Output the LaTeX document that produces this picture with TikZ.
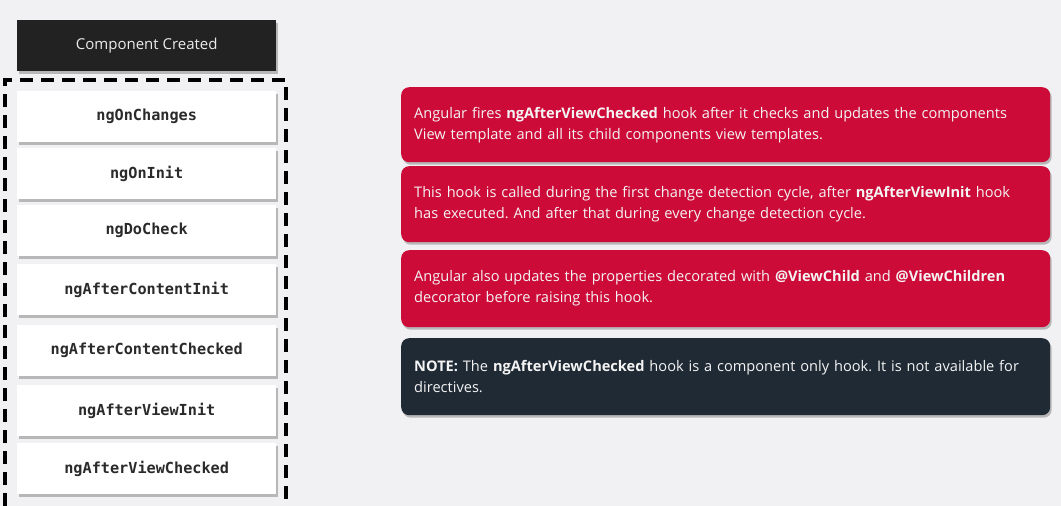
\documentclass[tikz,border=0pt]{standalone}
\usepackage{fontspec}
\setmainfont{Open Sans}
\newfontfamily\hookfont{DejaVu Sans Mono}
\usetikzlibrary{shadows}
\frenchspacing
\definecolor{pagebg}{HTML}{F1F0F2}
\definecolor{headfill}{HTML}{222222}
\definecolor{alertred}{HTML}{CD0B38}
\definecolor{notedark}{HTML}{202A35}
\definecolor{hooktext}{HTML}{2A2A2A}
\definecolor{infotext}{HTML}{F4F4F4}
\begin{document}
\begin{tikzpicture}[x=1pt,y=-1pt,
  softshadow/.style={drop shadow={shadow xshift=1.5pt, shadow yshift=-2.5pt, opacity=0.45, fill=black!55}},
  headbox/.style={fill=headfill, text=white!92!black, anchor=north west, inner sep=0pt,
    minimum width=259pt, minimum height=51pt, font=\fontsize{15}{18}\selectfont, softshadow},
  hookbox/.style={fill=white, text=hooktext, anchor=north west, inner sep=0pt,
    minimum width=259pt, minimum height=51pt, font=\hookfont\bfseries\fontsize{15.2}{18}\selectfont, softshadow},
  infobox/.style={anchor=north west, rounded corners=8pt, text=infotext,
    minimum width=649pt, inner xsep=13pt, inner ysep=0pt, text width=623pt, align=left,
    font=\fontsize{14.6}{21}\selectfont, softshadow},
  redbox/.style={infobox, fill=alertred},
  notebox/.style={infobox, fill=notedark}]

% page background
\fill[pagebg] (0,0) rectangle (1061,506);
\useasboundingbox (0,0) rectangle (1061,506);

% lifecycle column
\node[headbox] (cc) at (17,20) {Component Created};
\draw[line width=3.2pt, dash pattern=on 13pt off 8pt] (5,506) -- (5,80) -- (286,80) -- (286,506);

\node[hookbox] (h1) at (17,91)  {ngOnChanges};
\node[hookbox] (h2) at (17,148) {ngOnInit};
\node[hookbox] (h3) at (17,205) {ngDoCheck};
\node[hookbox] (h4) at (17,264) {ngAfterContentInit};
\node[hookbox] (h5) at (17,325) {ngAfterContentChecked};
\node[hookbox] (h6) at (17,385) {ngAfterViewInit};
\node[hookbox] (h7) at (17,443) {ngAfterViewChecked};

% explanation panels
\node[redbox, minimum height=75pt] (n1) at (401,87)
  {Angular fires \textbf{ngAfterViewChecked} hook after it checks and updates the components\\
   View template and all its child components view templates.};
\node[redbox, minimum height=76pt] (n2) at (401,166)
  {This hook is called during the first change detection cycle, after \textbf{ngAfterViewInit} hook\\
   has executed. And after that during every change detection cycle.};
\node[redbox, minimum height=77pt] (n3) at (401,250)
  {Angular also updates the properties decorated with \textbf{@ViewChild} and \textbf{@ViewChildren}\\
   decorator before raising this hook.};
\node[notebox, minimum height=77pt] (n4) at (401,338)
  {\textbf{NOTE:} The \textbf{ngAfterViewChecked} hook is a component only hook. It is not available for\\
   directives.};
\end{tikzpicture}
\end{document}
